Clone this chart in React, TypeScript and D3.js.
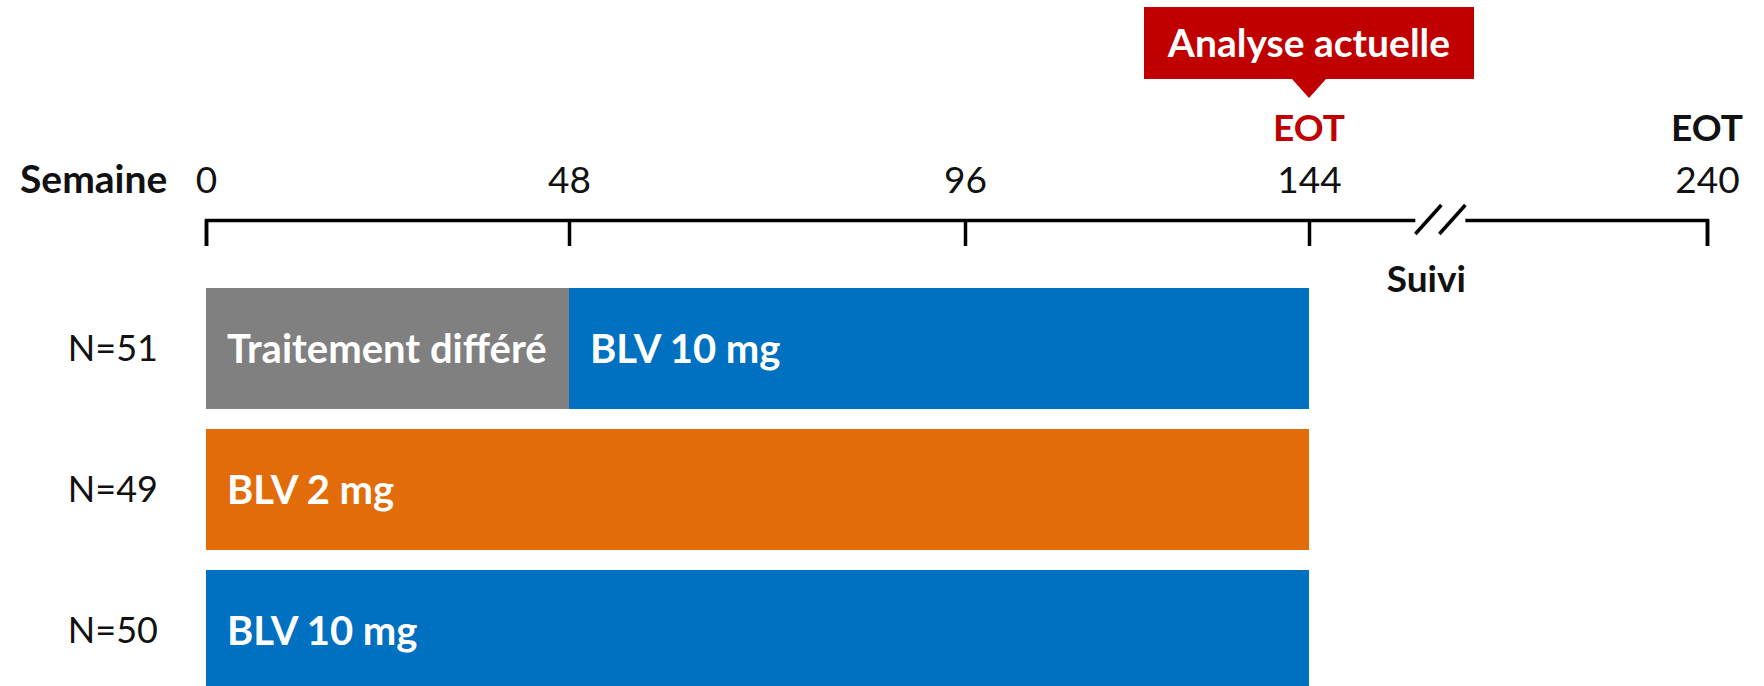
import React, { useEffect, useRef } from "react";
import * as d3 from "d3";

// axis weeks (schematic, broken after 144)
const weeks = [0, 48, 96, 144, 240];
const weekPos = [206, 569, 965, 1309, 1707];

// study arms
const groups = ["N=51", "N=49", "N=50"];

// bar segments
const segGroup = ["N=51", "N=51", "N=49", "N=50"];
const segLabel = ["Traitement différé", "BLV 10 mg", "BLV 2 mg", "BLV 10 mg"];
const segFrom = [0, 48, 0, 0];
const segTo = [48, 144, 144, 144];
const segKind = ["delayed", "blv10", "blv2", "blv10"];

// labels above axis
const eotWeeks = [144, 240];
const currentWeek = 144;

const colors: Record<string, string> = {
  delayed: "#808080",
  blv10: "#0070C0",
  blv2: "#E36C0A",
};
const RED = "#C00000";
const FONT = "Lato, 'Open Sans', sans-serif";

export default function App() {
  const ref = useRef<SVGSVGElement>(null);

  useEffect(() => {
    const svg = d3.select(ref.current);
    svg.selectAll("*").remove();

    const x = d3.scaleLinear().domain(weeks).range(weekPos);
    const y = d3
      .scaleBand()
      .domain(groups)
      .range([288, 691])
      .paddingInner(0.142)
      .paddingOuter(0);

    const axisY = 220;

    // axis with downward ticks, labels above
    const axis = svg
      .append("g")
      .attr("transform", `translate(0,${axisY})`)
      .call(
        d3
          .axisTop(x)
          .tickValues(weeks)
          .tickSizeInner(-26)
          .tickSizeOuter(-26)
          .tickPadding(27)
          .tickFormat((d) => String(d))
      );
    axis.select(".domain").attr("stroke", "#000").attr("stroke-width", 3.5);
    axis.selectAll(".tick line").attr("stroke", "#000").attr("stroke-width", 3.5);
    axis
      .selectAll(".tick text")
      .attr("font-family", FONT)
      .attr("font-size", 37)
      .attr("fill", "#111");

    // break in axis (follow-up period)
    const bx = x(144) + (x(240) - x(144)) * 0.33;
    svg
      .append("rect")
      .attr("x", bx - 25)
      .attr("y", axisY - 6)
      .attr("width", 50)
      .attr("height", 12)
      .attr("fill", "#fff");
    [-12, 12].forEach((o) => {
      svg
        .append("line")
        .attr("x1", bx + o - 13)
        .attr("y1", axisY + 14)
        .attr("x2", bx + o + 13)
        .attr("y2", axisY - 15)
        .attr("stroke", "#000")
        .attr("stroke-width", 3.5);
    });
    svg
      .append("text")
      .attr("x", bx - 14)
      .attr("y", 292)
      .attr("text-anchor", "middle")
      .attr("font-family", FONT)
      .attr("font-weight", 700)
      .attr("font-size", 37)
      .attr("fill", "#111")
      .text("Suivi");

    // Semaine label
    svg
      .append("text")
      .attr("x", 20)
      .attr("y", 193)
      .attr("font-family", FONT)
      .attr("font-weight", 700)
      .attr("font-size", 39)
      .attr("fill", "#111")
      .text("Semaine");

    // EOT labels
    eotWeeks.forEach((w) => {
      svg
        .append("text")
        .attr("x", x(w))
        .attr("y", 141)
        .attr("text-anchor", "middle")
        .attr("font-family", FONT)
        .attr("font-weight", 700)
        .attr("font-size", 37)
        .attr("fill", w === currentWeek ? RED : "#111")
        .text("EOT");
    });

    // callout
    const cx = x(currentWeek);
    svg
      .append("path")
      .attr(
        "d",
        `M${cx - 165},7H${cx + 165}V79H${cx + 17}L${cx},98L${cx - 17},79H${cx - 165}Z`
      )
      .attr("fill", RED);
    svg
      .append("text")
      .attr("x", cx)
      .attr("y", 57)
      .attr("text-anchor", "middle")
      .attr("font-family", FONT)
      .attr("font-weight", 700)
      .attr("font-size", 39)
      .attr("fill", "#fff")
      .text("Analyse actuelle");

    // group labels
    svg
      .selectAll(".grp")
      .data(groups)
      .join("text")
      .attr("x", 158)
      .attr("y", (d) => (y(d) as number) + y.bandwidth() / 2)
      .attr("dy", "0.36em")
      .attr("text-anchor", "end")
      .attr("font-family", FONT)
      .attr("font-size", 36)
      .attr("fill", "#111")
      .text((d) => d);

    // bars
    const segs = segLabel.map((label, i) => ({
      group: segGroup[i],
      label,
      from: segFrom[i],
      to: segTo[i],
      kind: segKind[i],
    }));

    svg
      .selectAll(".seg")
      .data(segs)
      .join("rect")
      .attr("x", (d) => x(d.from))
      .attr("y", (d) => y(d.group) as number)
      .attr("width", (d) => x(d.to) - x(d.from))
      .attr("height", y.bandwidth())
      .attr("fill", (d) => colors[d.kind]);

    svg
      .selectAll(".segl")
      .data(segs)
      .join("text")
      .attr("x", (d) => x(d.from) + 21)
      .attr("y", (d) => (y(d.group) as number) + y.bandwidth() / 2)
      .attr("dy", "0.36em")
      .attr("font-family", FONT)
      .attr("font-weight", 700)
      .attr("font-size", 40)
      .attr("fill", "#fff")
      .text((d) => d.label);
  }, []);

  return (
    <svg
      ref={ref}
      width={1764}
      height={686}
      style={{ position: "absolute", left: 0, top: 0, background: "#fff" }}
    />
  );
}
